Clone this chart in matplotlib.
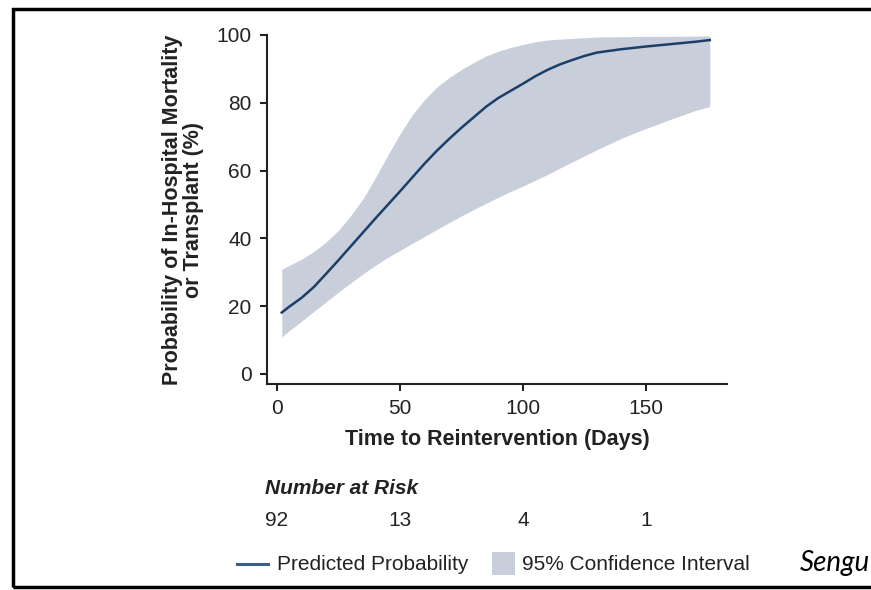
import matplotlib
matplotlib.use("Agg")
import matplotlib.pyplot as plt
from matplotlib.lines import Line2D
from matplotlib.patches import Rectangle
import matplotlib.transforms as mtransforms

plt.rcParams['font.family'] = ['Liberation Sans', 'DejaVu Sans']

days = [2, 5, 10, 15, 20, 25, 30, 35, 40, 45, 50, 55, 60, 65, 70, 75, 80, 85, 90, 95,
        100, 105, 110, 115, 120, 125, 130, 140, 150, 160, 170, 176]
predicted = [18.1, 19.8, 22.4, 25.6, 29.5, 33.5, 37.6, 41.7, 45.8, 49.8, 53.8, 57.9, 62.0,
             65.8, 69.3, 72.6, 75.7, 78.8, 81.4, 83.5, 85.6, 87.8, 89.7, 91.3, 92.6, 93.8,
             94.8, 95.8, 96.6, 97.3, 98.0, 98.5]
upper = [30.8, 32.0, 33.8, 36.1, 38.9, 42.3, 46.7, 51.6, 57.8, 64.4, 70.7, 76.4, 80.9,
         84.6, 87.4, 89.8, 91.9, 93.8, 95.2, 96.3, 97.2, 98.0, 98.5, 98.8, 99.0, 99.2,
         99.4, 99.5, 99.6, 99.6, 99.7, 99.7]
lower = [10.9, 12.7, 15.5, 18.4, 21.2, 24.1, 26.8, 29.5, 32.0, 34.3, 36.4, 38.5, 40.5,
         42.6, 44.6, 46.6, 48.5, 50.3, 52.1, 53.8, 55.4, 57.1, 58.8, 60.7, 62.5, 64.3,
         66.1, 69.5, 72.4, 75.1, 77.7, 78.9]

risk_days = [0, 50, 100, 150]
risk_counts = ["92", "13", "4", "1"]
x_ticks = [0, 50, 100, 150]
y_ticks = [0, 20, 40, 60, 80, 100]

W, H = 871, 590
fig = plt.figure(figsize=(W / 100, H / 100), dpi=100)

def fx(px):
    return px / W

def fy(py):
    return 1 - py / H

ax = fig.add_axes([fx(267), fy(384), fx(727) - fx(267), fy(35) - fy(384)])

line_color = '#1b3f68'
fill_color = '#c8cfdb'
text_color = '#222222'

ax.fill_between(days, lower, upper, color=fill_color, lw=0)
ax.plot(days, predicted, color=line_color, lw=1.8)

ax.set_xlim(-4, 183)
ax.set_ylim(-3, 100)
ax.set_xticks(x_ticks)
ax.set_yticks(y_ticks)
for s in ['top', 'right']:
    ax.spines[s].set_visible(False)
for s in ['left', 'bottom']:
    ax.spines[s].set_linewidth(1.5)
    ax.spines[s].set_color('#222222')
ax.tick_params(axis='both', direction='out', length=5, width=1.5, colors='#222222',
               labelsize=15, labelcolor=text_color, pad=6)

ax.set_xlabel('Time to Reintervention (Days)', fontsize=15.5, fontweight='bold',
              color=text_color, labelpad=8)
ax.set_ylabel('Probability of In-Hospital Mortality\nor Transplant (%)', fontsize=15.5,
              fontweight='bold', color=text_color, labelpad=9, linespacing=1.0)

# Number at risk
fig.text(fx(265), fy(489), 'Number at Risk', fontsize=15, fontweight='bold',
         fontstyle='italic', color=text_color, ha='left', va='center')
trans = mtransforms.blended_transform_factory(ax.transData, fig.transFigure)
for d, c in zip(risk_days, risk_counts):
    ax.text(d, fy(520), c, transform=trans, ha='center', va='center', fontsize=15,
            color=text_color, clip_on=False)

# Legend (manual)
fig.add_artist(Line2D([fx(237), fx(268)], [fy(564), fy(564)], color='#3b5e88', lw=2.2,
                      transform=fig.transFigure))
fig.text(fx(277), fy(564), 'Predicted Probability', fontsize=15, color=text_color,
         ha='left', va='center')
fig.add_artist(Rectangle((fx(492), fy(575)), fx(515) - fx(492), fy(552) - fy(575),
                         transform=fig.transFigure, facecolor=fill_color, edgecolor='none'))
fig.text(fx(522), fy(564), '95% Confidence Interval', fontsize=15, color=text_color,
         ha='left', va='center')
fig.text(fx(800), fy(563), 'Sengu', fontsize=20, fontstyle='italic',
         family=['Lato', 'DejaVu Sans'], color='black', ha='left', va='center')

# Outer frame
fig.add_artist(Rectangle((fx(13), fy(587)), fx(900) - fx(13), fy(9) - fy(587),
                         transform=fig.transFigure, facecolor='none', edgecolor='black',
                         lw=2.5))

fig.savefig('out.png', dpi=100)
